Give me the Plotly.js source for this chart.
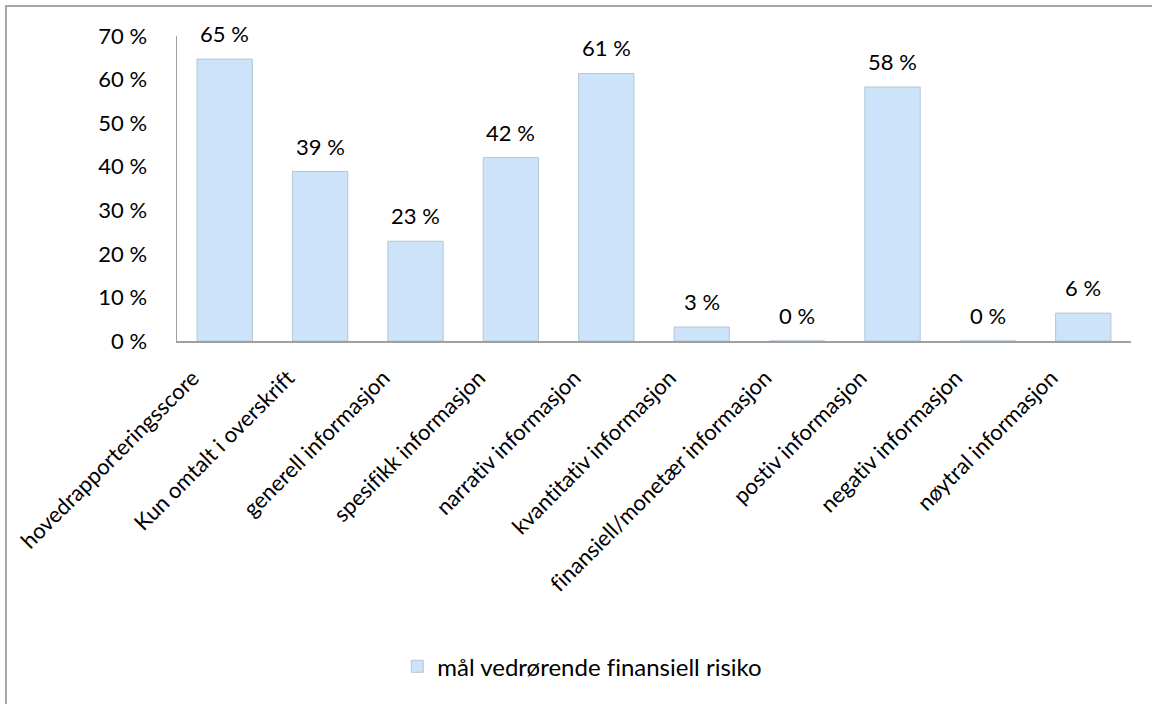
<!DOCTYPE html>
<html>
<head>
<meta charset="utf-8">
<script src="https://cdn.plot.ly/plotly-3.0.1.min.js"></script>
<style>
  html, body { margin: 0; padding: 0; background: #fff; }
  #wrap { position: relative; width: 1152px; height: 704px; overflow: hidden; }
  #chart { width: 1152px; height: 704px; }
  #chart text { font-variant-ligatures: none; font-feature-settings: "liga" 0, "clig" 0; }
  #frame { position: absolute; left: 5px; top: 5px; width: 1200px; height: 760px;
           border-left: 2px solid #a6a6a6; border-top: 2px solid #a6a6a6; pointer-events: none; }
</style>
</head>
<body>
<div id="wrap">
  <div id="chart"></div>
  <div id="frame"></div>
</div>
<script>
const categories = [
  "hovedrapporteringsscore",
  "Kun omtalt i overskrift",
  "generell informasjon",
  "spesifikk informasjon",
  "narrativ informasjon",
  "kvantitativ informasjon",
  "finansiell/monetær informasjon",
  "postiv informasjon",
  "negativ informasjon",
  "nøytral informasjon"
];
const values = [64.7, 38.9, 22.9, 42.1, 61.4, 3.2, 0, 58.3, 0, 6.4];
const seriesName = "mål vedrørende finansiell risiko";
const yTickVals = [0, 10, 20, 30, 40, 50, 60, 70];
const yTickText = ["0 %", "10 %", "20 %", "30 %", "40 %", "50 %", "60 %", "70 %"];
const labels = values.map(v => Math.round(v) + " %");

const FONT = "Lato, 'Open Sans', sans-serif";

const trace = {
  type: "bar",
  x: categories,
  y: values,
  name: seriesName,
  marker: { color: "#cde3f9", line: { color: "#b4c6d9", width: 1 } },
  hoverinfo: "x+y",
  showlegend: true
};

const annotations = categories.map((c, i) => ({
  x: c,
  y: values[i],
  xref: "x",
  yref: "y",
  text: labels[i],
  showarrow: false,
  yanchor: "bottom",
  yshift: 10,
  font: { family: FONT, size: 22, color: "#000" }
}));

const layout = {
  width: 1152,
  height: 704,
  margin: { l: 177, r: 21, t: 36, b: 363 },
  paper_bgcolor: "#fff",
  plot_bgcolor: "#fff",
  font: { family: FONT, size: 22, color: "#000" },
  bargap: 0.42,
  annotations: annotations,
  xaxis: {
    type: "category",
    tickangle: -45,
    showline: true,
    linecolor: "#a0a0a0",
    linewidth: 1.5,
    showgrid: false,
    ticks: "",
    ticklabelstandoff: 14,
    ticklabelshift: -32,
    tickfont: { family: FONT, size: 22, color: "#000" },
    automargin: false
  },
  yaxis: {
    range: [0, 70],
    tickvals: yTickVals,
    ticktext: yTickText,
    showline: true,
    linecolor: "#a0a0a0",
    linewidth: 1.5,
    showgrid: false,
    zeroline: false,
    ticks: "",
    ticklabelstandoff: 24,
    tickfont: { family: FONT, size: 22, color: "#000" },
    automargin: false
  },
  showlegend: true,
  legend: {
    orientation: "h",
    xref: "container",
    yref: "container",
    x: 0.505,
    xanchor: "center",
    y: 0.053,
    yanchor: "middle",
    font: { family: FONT, size: 24, color: "#000" },
    itemwidth: 30
  }
};

Plotly.newPlot("chart", [trace], layout, { displayModeBar: false, staticPlot: true });
</script>
</body>
</html>
